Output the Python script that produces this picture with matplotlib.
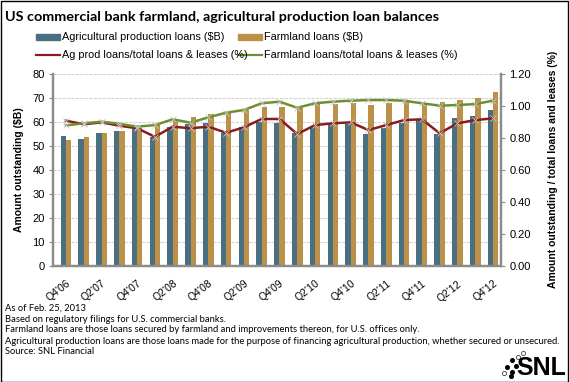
import matplotlib.pyplot as plt
from matplotlib.lines import Line2D
from matplotlib.patches import Rectangle
import numpy as np

quarters = ["Q4'06", "Q1'07", "Q2'07", "Q3'07", "Q4'07", "Q1'08", "Q2'08", "Q3'08",
            "Q4'08", "Q1'09", "Q2'09", "Q3'09", "Q4'09", "Q1'10", "Q2'10", "Q3'10",
            "Q4'10", "Q1'11", "Q2'11", "Q3'11", "Q4'11", "Q1'12", "Q2'12", "Q3'12",
            "Q4'12"]
ag_prod = [54.1, 52.8, 55.4, 56.0, 56.8, 53.8, 57.9, 59.0, 59.6, 55.4, 57.9, 59.8, 59.3,
           55.4, 58.2, 58.9, 59.0, 54.8, 57.5, 59.6, 60.9, 54.9, 61.4, 62.5, 64.9]
farmland = [52.4, 53.6, 55.2, 56.3, 57.3, 58.9, 60.7, 61.8, 63.2, 64.2, 64.9, 66.2, 66.2,
            65.6, 67.2, 67.4, 67.7, 66.9, 67.7, 68.1, 67.8, 68.1, 69.0, 70.0, 72.5]
ag_ratio = [0.906, 0.884, 0.896, 0.875, 0.859, 0.806, 0.869, 0.859, 0.869, 0.831, 0.865,
            0.917, 0.917, 0.823, 0.879, 0.890, 0.896, 0.848, 0.879, 0.910, 0.915, 0.828,
            0.890, 0.910, 0.921]
farm_ratio = [0.877, 0.890, 0.900, 0.887, 0.869, 0.879, 0.915, 0.894, 0.927, 0.956, 0.973,
              1.015, 1.025, 0.987, 1.015, 1.025, 1.031, 1.035, 1.035, 1.031, 1.015, 1.000,
              1.004, 1.010, 1.031]

blue = "#4a6f80"
gold = "#bb9049"
red = "#8a1c1c"
green = "#6e8f2f"
spine_gray = "#8c8c8c"

plt.rcParams["font.family"] = ["Liberation Sans", "DejaVu Sans"]

fig = plt.figure(figsize=(5.69, 3.82), dpi=100)
ax = fig.add_axes([0.0931, 0.3037, 0.7874, 0.5036])
ax2 = ax.twinx()

x = np.arange(len(quarters))
ax.bar(x - 0.15, ag_prod, 0.3, color=blue, zorder=2)
ax.bar(x + 0.15, farmland, 0.3, color=gold, zorder=2)

ax2.plot(x, ag_ratio, color=red, lw=1.8, zorder=3)
ax2.plot(x, farm_ratio, color=green, lw=1.8, zorder=3)
ax2.plot(x, ag_ratio, ls="none", marker="x", ms=4, mew=0.6, color="#c8c8c8", zorder=4)
ax2.plot(x, farm_ratio, ls="none", marker="x", ms=4, mew=0.6, color="#c8c8c8", zorder=4)

ax.set_xlim(-0.73, 24.45)
ax.set_ylim(0, 80)
ax2.set_ylim(0, 1.2)
ax.set_yticks(range(0, 81, 10))
ax2.set_yticks(np.arange(0, 1.21, 0.2))
ax2.set_yticklabels([f"{v:.2f}" for v in np.arange(0, 1.21, 0.2)])
ax.set_xticks(x[::2])
ax.set_xticklabels(quarters[::2], rotation=38, ha="right", rotation_mode="anchor")

ax.set_axisbelow(True)
ax.yaxis.grid(True, color="#d6d6d6", lw=0.8, ls=(0, (3, 1)))

for a in (ax, ax2):
    a.spines["top"].set_visible(False)
    for s in ("left", "right", "bottom"):
        a.spines[s].set_color(spine_gray)
        a.spines[s].set_linewidth(1.6)
ax.tick_params(axis="x", length=0, labelsize=7.5, pad=9)
ax.tick_params(axis="y", length=3, color=spine_gray, labelsize=8, pad=3)
ax2.tick_params(axis="y", length=3, color=spine_gray, labelsize=8, pad=3)

ax.set_ylabel("Amount outstanding ($B)", fontsize=7.5, fontweight="bold", labelpad=6)
ax2.set_ylabel("Amount outstanding / total loans and leases (%)", fontsize=7.5,
               fontweight="bold", labelpad=12)

fig.text(0.009, 0.955, "US commercial bank farmland, agricultural production loan balances",
         fontsize=10.4, fontweight="bold", family=["Lato", "DejaVu Sans"], va="center")

# legend drawn by hand
leg_fs = 7.8
fig.patches.append(Rectangle((36 / 569, 1 - 40 / 382), 24 / 569, 6 / 382,
                             transform=fig.transFigure, color=blue))
fig.text(62 / 569, 1 - 37 / 382, "Agricultural production loans ($B)", fontsize=leg_fs, va="center")
fig.patches.append(Rectangle((238 / 569, 1 - 40 / 382), 24 / 569, 6 / 382,
                             transform=fig.transFigure, color=gold))
fig.text(264 / 569, 1 - 37 / 382, "Farmland loans ($B)", fontsize=leg_fs, va="center")
fig.lines.append(Line2D([36 / 569, 60 / 569], [1 - 55 / 382] * 2,
                        transform=fig.transFigure, color=red, lw=1.6))
fig.text(62 / 569, 1 - 55 / 382, "Ag prod loans/total loans & leases (%)", fontsize=leg_fs, va="center")
fig.lines.append(Line2D([238 / 569, 262 / 569], [1 - 55 / 382] * 2,
                        transform=fig.transFigure, color=green, lw=1.6))
fig.text(264 / 569, 1 - 55 / 382, "Farmland loans/total loans & leases (%)", fontsize=leg_fs, va="center")

notes = ["As of Feb. 25, 2013",
         "Based on regulatory filings for U.S. commercial banks.",
         "Farmland loans are those loans secured by farmland and improvements thereon, for U.S. offices only.",
         "Agricultural production loans are those loans made for the purpose of financing agricultural production, whether secured or unsecured.",
         "Source: SNL Financial"]
for i, line in enumerate(notes):
    fig.text(5 / 569, 1 - (308 + 11 * i) / 382, line, fontsize=6.75,
             family=["Lato", "DejaVu Sans"], va="center")

# SNL logo
fig.text(566 / 569, 1 - 368 / 382, "SNL", fontsize=18, fontweight="bold", ha="right",
         va="center", family=["Liberation Sans"])
dots_x = [512, 516, 512, 507, 511]
dots_y = [360, 366, 372, 367, 376]
fig.lines.append(Line2D([d / 569 for d in dots_x], [1 - d / 382 for d in dots_y],
                        transform=fig.transFigure, ls="none", marker="o", ms=2.6,
                        color="black"))
fig.lines.append(Line2D([518 / 569, 523 / 569, 504 / 569], [1 - 357 / 382, 1 - 353 / 382, 1 - 373 / 382],
                        transform=fig.transFigure, ls="none", marker="o", ms=3,
                        mfc="white", mec="#444444", mew=0.6))

fig.patches.append(Rectangle((0.001, 0.001), 0.997, 0.996, transform=fig.transFigure,
                             fill=False, ec="black", lw=1))

fig.savefig("out.png", dpi=100)
